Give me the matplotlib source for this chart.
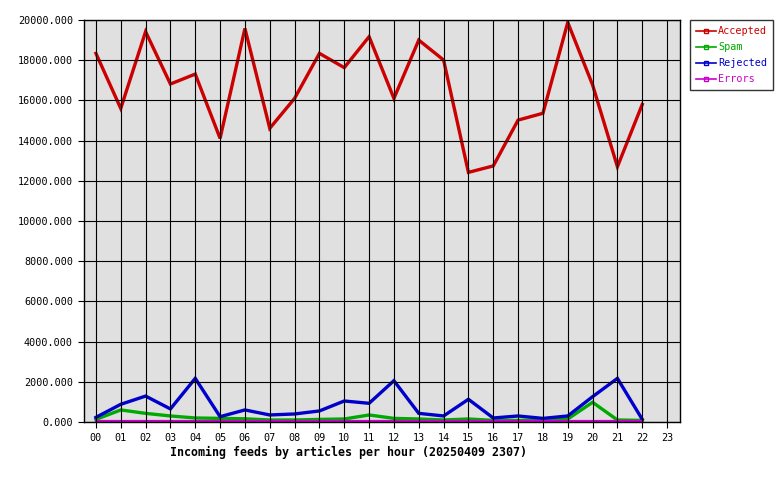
import matplotlib
matplotlib.use("Agg")
import matplotlib.pyplot as plt
from matplotlib.lines import Line2D

hours = list(range(23))
hour_labels = ["%02d" % h for h in range(24)]

accepted = [18340, 15600, 19420, 16815, 17310, 14110, 19580, 14610, 16100,
            18340, 17630, 19170, 16100, 19000, 18010, 12420, 12740, 15020,
            15360, 19880, 16770, 12700, 15800]
spam = [130, 600, 430, 300, 200, 180, 160, 100, 100, 130, 150, 350, 180,
        150, 100, 150, 80, 80, 100, 150, 980, 100, 80]
rejected = [230, 880, 1290, 650, 2170, 265, 600, 350, 400, 550, 1045, 930,
            2055, 430, 300, 1130, 200, 300, 180, 300, 1260, 2170, 130]
errors = [40, 40, 40, 40, 40, 40, 40, 40, 40, 40, 40, 40, 40, 40, 40, 40,
          40, 40, 40, 40, 40, 40, 40]

series = [
    ("Accepted", accepted, "#cc0000", 2.4),
    ("Spam", spam, "#00aa00", 2.4),
    ("Rejected", rejected, "#0000cc", 2.4),
    ("Errors", errors, "#cc00cc", 1.6),
]

mono = "DejaVu Sans Mono"

fig = plt.figure(figsize=(7.8, 4.8), dpi=100)
ax = fig.add_axes([84 / 780, 58 / 480, 596 / 780, 402 / 480])
ax.set_facecolor("#e0e0e0")

for name, vals, color, lw in series:
    ax.plot(hours, vals, color=color, lw=lw, solid_joinstyle="miter")

ax.set_xlim(-0.48, 23.52)
ax.set_ylim(0, 20000)
ax.set_xticks(range(24))
ax.set_xticklabels(hour_labels)
ax.set_yticks(range(0, 20001, 2000))
ax.set_yticklabels(["%.3f" % v for v in range(0, 20001, 2000)])
ax.grid(True, color="black", lw=0.8)
ax.set_axisbelow(False)
for s in ax.spines.values():
    s.set_color("black")
    s.set_linewidth(1.0)
ax.tick_params(length=4, width=0.8, color="black", labelsize=7.3, pad=4)
for lab in ax.get_xticklabels() + ax.get_yticklabels():
    lab.set_family(mono)

fig.text(348 / 780, 1 - 452 / 480,
         "Incoming feeds by articles per hour (20250409 2307)",
         ha="center", va="center", family=mono, fontsize=8.4,
         fontweight="bold")

handles = [Line2D([], [], color=c, lw=1.2, marker="s", markersize=3,
                  markerfacecolor="none", markeredgecolor=c, markevery=[1])
           for _, _, c, _ in series]
for h in handles:
    h.set_data([0, 1, 2], [0, 0, 0])
leg = fig.legend(handles, [s[0] for s in series], loc="upper left",
                 bbox_to_anchor=(690 / 780, 1 - 20 / 480),
                 prop={"family": mono, "size": 7.3}, frameon=True,
                 fancybox=False, borderpad=0.6, labelspacing=0.6,
                 handlelength=2.0, handletextpad=0.15, borderaxespad=0)
leg.get_frame().set_edgecolor("black")
leg.get_frame().set_linewidth(1.0)
for txt, (_, _, c, _) in zip(leg.get_texts(), series):
    txt.set_color(c)

fig.savefig("out.png", dpi=100)
